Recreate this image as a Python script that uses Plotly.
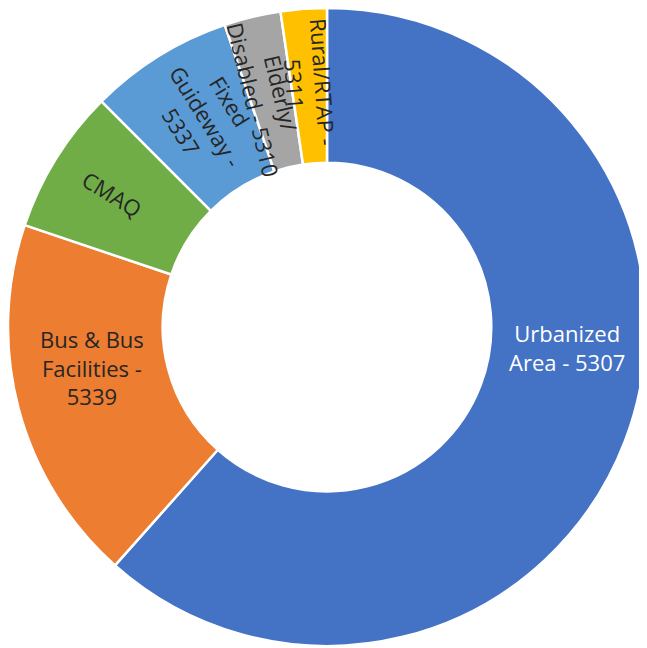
import math
import plotly.graph_objects as go

categories = ["Urbanized Area - 5307", "Bus & Bus Facilities - 5339", "CMAQ",
              "Fixed Guideway - 5337", "Elderly/ Disabled - 5310", "Rural/RTAP - 5311"]
values = [61.55, 18.6, 7.33, 7.3, 2.86, 2.33]
label_text = ["Urbanized<br>Area - 5307", "Bus & Bus<br>Facilities -<br>5339", "CMAQ",
              "Fixed<br>Guideway -<br>5337", "Elderly/<br>Disabled - 5310", "Rural/RTAP -<br>5311"]

colors = ["#4472C4", "#ED7D31", "#70AD47", "#5B9BD5", "#A5A5A5", "#FFC000"]
text_colors = ["#FFFFFF", "#262626", "#262626", "#262626", "#262626", "#262626"]
radial = [False, False, True, True, True, True]
angle_shift = [-16, 5, 0, 2, -1, 0]       # label placement nudges (deg)
label_r = [0.755, 0.745, 0.79, 0.76, 0.745, 0.765]  # fraction of outer radius

W, H = 647, 648
R_PX = 319.5
dom_x = [0, 638 / W]
dom_y = [10 / H, 1]
HOLE = 0.515
FONT = "Open Sans"
FSIZE = 22

fig = go.Figure()
fig.add_trace(go.Pie(labels=categories, values=values, sort=False, direction="clockwise",
                     rotation=0, hole=HOLE, textinfo="none", showlegend=False,
                     domain=dict(x=dom_x, y=dom_y),
                     marker=dict(colors=colors, line=dict(color="white", width=2.5))))

# labels placed from the cumulative data angles
cx = (dom_x[0] + dom_x[1]) / 2 * W
cy = (1 - (dom_y[0] + dom_y[1]) / 2) * H
total = sum(values)
cum = 0.0
annotations = []
for i, v in enumerate(values):
    mid = (cum + v / 2) / total * 360.0
    cum += v
    ang = mid + angle_shift[i]
    r = label_r[i] * R_PX
    px = cx + r * math.sin(math.radians(ang))
    py = cy - r * math.cos(math.radians(ang))
    tangle = (mid - 270) if radial[i] else 0
    annotations.append(dict(x=px / W, y=1 - py / H, xref="paper", yref="paper",
                            text=label_text[i], showarrow=False, textangle=tangle,
                            xanchor="center", yanchor="middle", align="center",
                            font=dict(family=FONT, size=FSIZE, color=text_colors[i])))

fig.update_layout(width=W, height=H, margin=dict(l=0, r=0, t=0, b=0),
                  paper_bgcolor="white", plot_bgcolor="white", annotations=annotations)
fig.write_html("out.html")
